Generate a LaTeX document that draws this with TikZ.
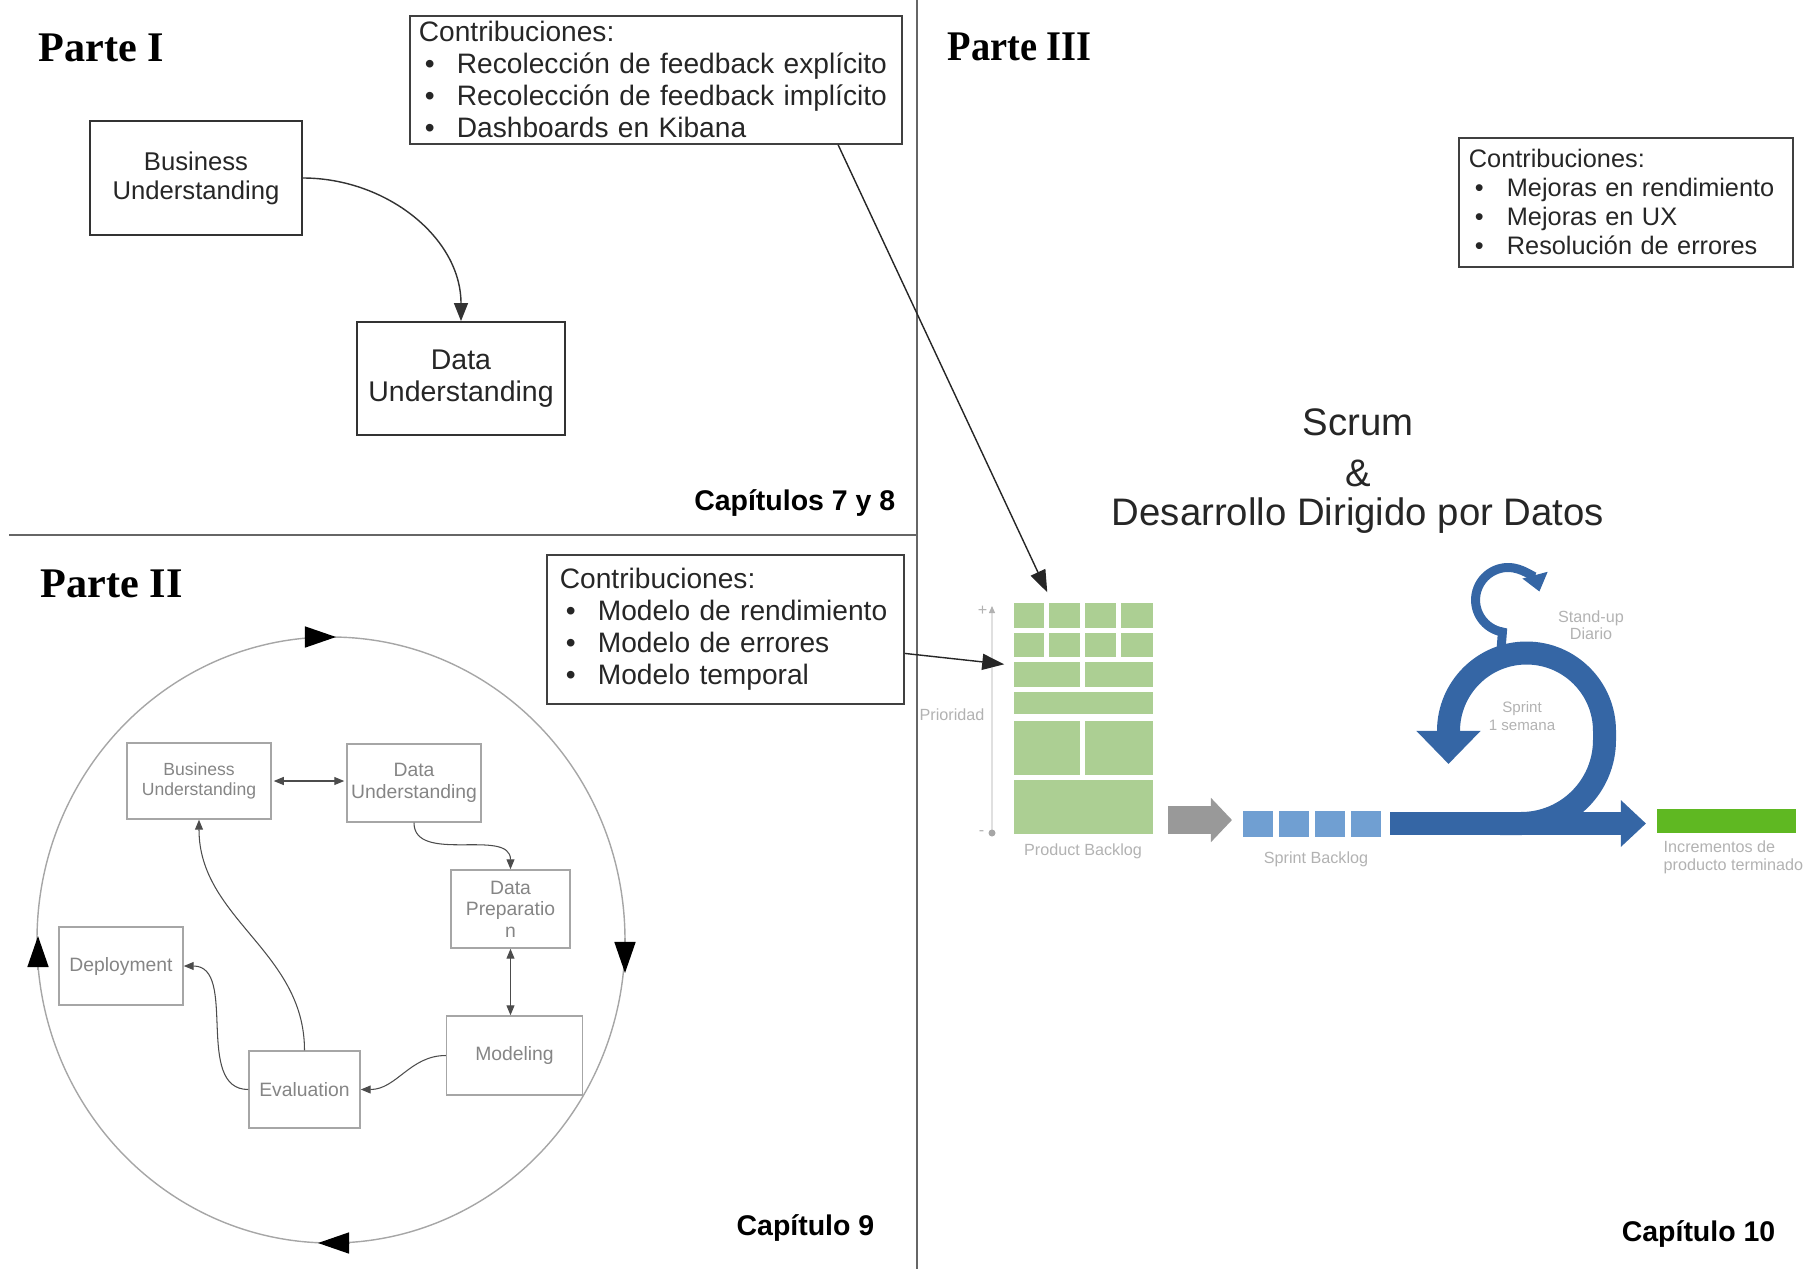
\documentclass[tikz,border=0pt]{standalone}
\usepackage{graphicx}
\usepackage{fontspec}
\setmainfont{Liberation Sans}
\newfontfamily\partfont{Liberation Serif}
\usetikzlibrary{arrows.meta,positioning}

\definecolor{pbgreen}{HTML}{ACCF93}
\definecolor{incgreen}{HTML}{5FB822}
\definecolor{scrumblue}{HTML}{3566A5}
\definecolor{sbblue}{HTML}{709FD2}
\definecolor{crisptext}{HTML}{858585}

\newcommand\bul{\hspace*{0.06cm}\makebox[0.32cm][l]{\textbullet}}
\newcommand\fs[2]{\fontsize{#1}{#2}\selectfont}

\begin{document}
\begin{tikzpicture}[x=0.01cm, y=0.01cm,
    parttitle/.style={font=\partfont\bfseries\fs{12pt}{14pt}, inner sep=0, anchor=west},
    chaptitle/.style={font=\bfseries\fs{8.1pt}{9pt}, inner sep=0, anchor=east},
    box/.style={draw=black!80, line width=0.5pt, text=black!85, align=center},
    contrib/.style={draw=black!75, line width=0.5pt, anchor=north west, align=left, text=black!85, inner ysep=0.02cm},
    crisp/.style={draw=black!35, line width=0.4pt, text=crisptext, align=center, inner sep=0.02cm, font=\fs{5.5pt}{6.1pt}},
    flow/.style={black!70, line width=0.3pt, -{Triangle[length=0.1cm,width=0.08cm]}},
    bothflow/.style={black!70, line width=0.3pt, {Triangle[length=0.1cm,width=0.08cm]}-{Triangle[length=0.1cm,width=0.08cm]}},
    cyclearrow/.style={black!35, line width=0.4pt, -{Triangle[length=0.31cm,width=0.21cm,color=black]}},
    mainlabel/.style={text=black!85, font=\fs{10.9pt}{13pt}, inner sep=0},
    scrumlabel/.style={text=black!30, font=\fs{4.6pt}{5.1pt}, align=center, inner sep=0}]
\useasboundingbox (0,0) rectangle (1805,-1269);

% dividers between the three parts
\draw[black!60, line width=0.6pt] (917,0) -- (917,-1269);
\draw[black!60, line width=0.6pt] (9,-535) -- (917,-535);

% Parte I
\node[parttitle] (p1) at (38,-48) {Parte I};
\node[contrib, text width=4.74cm, inner xsep=0.09cm, minimum height=1.28cm, font=\fs{8pt}{9.1pt}] (contribA) at (409,-15)
    {Contribuciones:\\ \bul Recolección de feedback explícito\\ \bul Recolección de feedback implícito\\ \bul Dashboards en Kibana};
\node[box, minimum width=2.12cm, minimum height=1.14cm, font=\fs{7.3pt}{8.2pt}] (bu) at (196,-178) {Business\\Understanding};
\node[box, minimum width=2cm, minimum height=1.13cm, font=\fs{8.1pt}{9.3pt}] (du) at (461,-378.5) {Data\\Understanding};
\draw[black!80, line width=0.4pt, -{Triangle[length=0.18cm,width=0.14cm]}] (bu.east) to[out=0,in=90] (du.north);
\node[chaptitle] (cap78) at (896,-503) {Capítulos 7 y 8};

% Parte II
\node[parttitle] (p2) at (40,-584) {Parte II};
\node[contrib, text width=3.31cm, inner xsep=0.13cm, minimum height=1.49cm, font=\fs{8pt}{9.1pt}] (contribB) at (546,-554)
    {Contribuciones:\\ \bul Modelo de rendimiento\\ \bul Modelo de errores\\ \bul Modelo temporal};

% CRISP-DM cycle
\draw[black!35, line width=0.4pt] (331,-940) ellipse [x radius=294, y radius=303];
\draw[cyclearrow] (305,-637) -- (336,-637);
\draw[cyclearrow] (625,-938) -- (625,-973);
\draw[cyclearrow] (350,-1243) -- (318,-1243);
\draw[cyclearrow] (38,-970) -- (38,-936);

\node[crisp, minimum width=1.44cm, minimum height=0.76cm, font=\fs{5pt}{5.6pt}] (cbu) at (199,-781) {Business\\Understanding};
\node[crisp, minimum width=1.34cm, minimum height=0.78cm] (cdu) at (414,-783) {Data\\Understanding};
\node[crisp, minimum width=1.19cm, minimum height=0.78cm] (cdp) at (510.5,-909) {Data\\Preparatio\\n};
\node[crisp, minimum width=1.36cm, minimum height=0.79cm] (cmod) at (514.5,-1055.5) {Modeling};
\node[crisp, minimum width=1.11cm, minimum height=0.77cm] (ceval) at (304.5,-1089.5) {Evaluation};
\node[crisp, minimum width=1.24cm, minimum height=0.78cm] (cdep) at (121,-966) {Deployment};

\draw[bothflow, shorten <=0.02cm, shorten >=0.02cm] (cbu.east) -- (cbu.east -| cdu.west);
\draw[flow] (cdu.south) to[out=-90,in=90] (cdp.north);
\draw[bothflow] (cdp.south) -- (cdp.south |- cmod.north);
\draw[flow] (cmod.west) to[out=180,in=0] (ceval.east);
\draw[flow] (ceval.north) to[out=90,in=-90] (cbu.south);
\draw[flow] (ceval.west) to[out=180,in=0] (cdep.east);

\node[chaptitle] (cap9) at (875,-1228) {Capítulo 9};

% Parte III
\node[parttitle] (p3) at (947,-47) {\scalebox{0.91}[1]{Parte III}};
\node[contrib, text width=3.14cm, inner xsep=0.1cm, minimum height=1.29cm, font=\fs{7.2pt}{8.25pt}] (contribC) at (1458,-137)
    {Contribuciones:\\ \bul Mejoras en rendimiento\\ \bul Mejoras en UX\\ \bul Resolución de errores};

\node[mainlabel] (scrum) at (1358,-422) {Scrum};
\node[mainlabel] (amp) at (1358,-473) {\&};
\node[mainlabel] (ddd) at (1358,-516) {Desarrollo Dirigido por Datos};

% product backlog
\foreach \xa/\xb in {1014/1044,1049/1080,1085/1116,1121/1153} {
    \fill[pbgreen] (\xa,-603) rectangle (\xb,-628);
    \fill[pbgreen] (\xa,-633) rectangle (\xb,-657);
}
\foreach \xa/\xb in {1014/1080,1085/1153} {
    \fill[pbgreen] (\xa,-662) rectangle (\xb,-687);
    \fill[pbgreen] (\xa,-721) rectangle (\xb,-775);
}
\fill[pbgreen] (1014,-692) rectangle (1153,-714);
\fill[pbgreen] (1014,-780) rectangle (1153,-834);
\node[inner sep=0, minimum width=1.39cm, minimum height=2.31cm] (backlog) at (1083.5,-718.5) {};
\node[scrumlabel] (pblabel) at (1083,-851) {Product Backlog};

% priority axis
\draw[black!12, line width=0.3pt, -{Triangle[length=0.07cm,width=0.06cm,color=black!30]}] (992,-833) -- (992,-606);
\fill[black!35] (992,-833) circle [radius=3.5];
\node[scrumlabel, anchor=east] (plus) at (988,-611) {+};
\node[scrumlabel, anchor=east] (minus) at (985,-833) {-};
\node[scrumlabel] (prio) at (952,-715) {Prioridad};

% links from the contributions
\draw[black!85, line width=0.4pt, -{Triangle[length=0.22cm,width=0.16cm]}] ([xshift=1.82cm]contribA.south) -- ([xshift=0.34cm,yshift=0.1cm]backlog.north west);
\draw[black!85, line width=0.4pt, -{Triangle[length=0.22cm,width=0.16cm]}] ([yshift=-0.24cm]contribB.east) -- ([xshift=-0.09cm,yshift=-0.62cm]backlog.north west);

% sprint
\draw[black!40, line width=0.28cm, -{Triangle[length=0.21cm,width=0.43cm]}] (1168,-820) -- (1232,-820);
\foreach \xa in {1243,1279,1315,1351}
    \fill[sbblue] (\xa,-811) rectangle ++(30,-26);
\node[scrumlabel] (sblabel) at (1316,-859) {Sprint Backlog};

\draw[scrumblue, line width=0.23cm, -{Triangle[length=0.25cm,width=0.45cm]}] (1390,-823.5) -- (1646,-823.5);
\draw[scrumblue, line width=0.23cm, -{Triangle[length=0.33cm,width=0.62cm]}] (1500,-823.5) -- (1521,-823.5)
    arc[start angle=-90, end angle=0, radius=83.5] -- (1604.5,-731)
    arc[start angle=0, end angle=180, radius=78] -- ++(0,-33);
\draw[scrumblue, line width=0.09cm, -{Triangle[length=0.17cm,width=0.25cm]}] (1501,-650) -- (1502.4,-632)
    arc[start angle=260, end angle=15, radius=32.5];
\node[scrumlabel, font=\fs{4.6pt}{4.7pt}] (standup) at (1591,-625) {Stand-up\\Diario};
\node[scrumlabel, font=\fs{4.3pt}{5.1pt}] (sprint) at (1522,-716) {Sprint\\1 semana};

\fill[incgreen] (1657,-809) rectangle (1796,-833);
\node[scrumlabel, anchor=west, align=left] (incr) at (1663,-857) {Incrementos de\\producto terminado};

\node[chaptitle] (cap10) at (1776,-1234) {Capítulo 10};
\end{tikzpicture}
\end{document}
